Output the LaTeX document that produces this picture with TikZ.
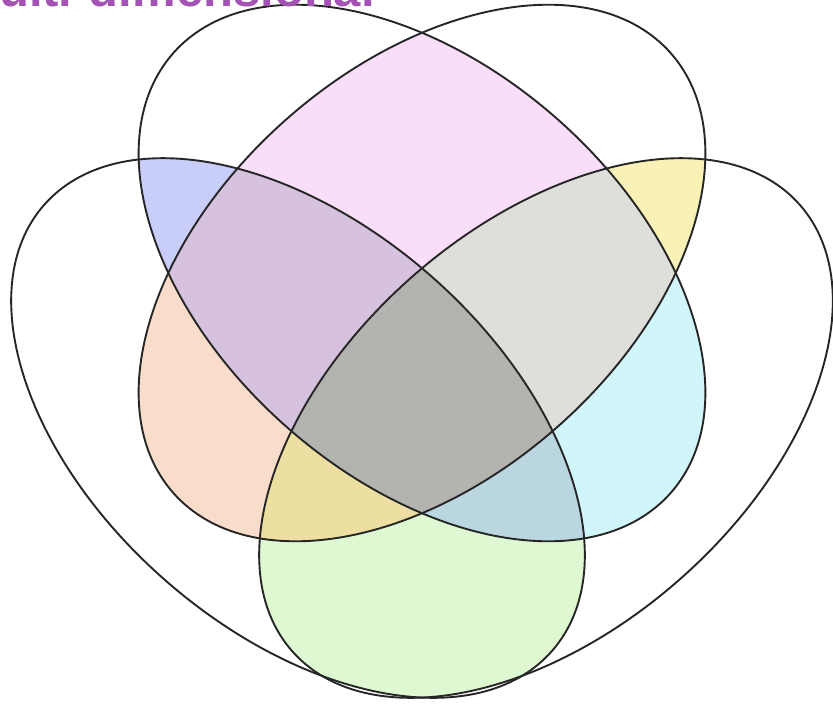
\documentclass[tikz,border=0pt]{standalone}
\usepackage{fontspec}
\setmainfont{Liberation Sans}
\usepackage{xcolor}

% region colours
\definecolor{pinkTT}{HTML}{FADEF9}
\definecolor{blueTL}{HTML}{C9CDF9}
\definecolor{yellowTR}{HTML}{F9F1B5}
\definecolor{peachTL}{HTML}{F9DDCA}
\definecolor{cyanTR}{HTML}{D0F5FA}
\definecolor{greenLR}{HTML}{DEF9D1}
\definecolor{purpleTTL}{HTML}{D6C1DF}
\definecolor{greyTTR}{HTML}{DEDEDA}
\definecolor{khakiTLR}{HTML}{EDDEA2}
\definecolor{steelTLR}{HTML}{BAD6E0}
\definecolor{greyAll}{HTML}{B3B3AF}
\definecolor{titlepurple}{HTML}{A452B3}

\tikzset{
  setline/.style={draw=black!85,line width=1.9pt},
  heading/.style={font=\fontsize{49}{50}\selectfont\bfseries,text=titlepurple,inner sep=0pt}
}

\begin{document}
\begin{tikzpicture}[x=1pt,y=1pt]

% ---- frame: 833 x 705 ----
\useasboundingbox (0,0) rectangle (833,-705);
\clip (0,0) rectangle (833,-705);

% ---- the four sets (two upper, two lower) ----
\def\pTa{(422,-273) ellipse [x radius=332pt,y radius=205pt,rotate=-41.5]}
\def\pTb{(422,-273) ellipse [x radius=332pt,y radius=205pt,rotate=41.5]}
\def\pL{(298,-428) ellipse [x radius=338pt,y radius=202pt,rotate=-41.3]}
\def\pR{(546,-428) ellipse [x radius=338pt,y radius=202pt,rotate=41.3]}

% ---- fills: \overlap{clip}{fill}{colour}, \overlapthree{clip}{clip}{fill}{colour}
\newcommand{\overlap}[3]{
  \begin{scope}
    \clip #1;
    \fill[#3] #2;
  \end{scope}
}
\newcommand{\overlapthree}[4]{
  \begin{scope}
    \clip #1;
    \clip #2;
    \fill[#4] #3;
  \end{scope}
}

% pairs
\overlap{\pTa}{\pTb}{pinkTT}
\overlap{\pTa}{\pL}{blueTL}
\overlap{\pTa}{\pR}{cyanTR}
\overlap{\pTb}{\pL}{peachTL}
\overlap{\pTb}{\pR}{yellowTR}
\overlap{\pL}{\pR}{greenLR}
% triples
\overlapthree{\pTa}{\pTb}{\pL}{purpleTTL}
\overlapthree{\pTa}{\pTb}{\pR}{greyTTR}
\overlapthree{\pTa}{\pL}{\pR}{steelTLR}
\overlapthree{\pTb}{\pL}{\pR}{khakiTLR}
% all four
\begin{scope}
  \clip \pTa;
  \clip \pTb;
  \clip \pL;
  \fill[greyAll] \pR;
\end{scope}

% ---- outlines ----
\draw[setline] \pTa;
\draw[setline] \pTb;
\draw[setline] \pL;
\draw[setline] \pR;

% title, cut off by the top edge
\node[heading,anchor=base east] (title) at (375,-6) {Multi-dimensional};

\end{tikzpicture}
\end{document}
